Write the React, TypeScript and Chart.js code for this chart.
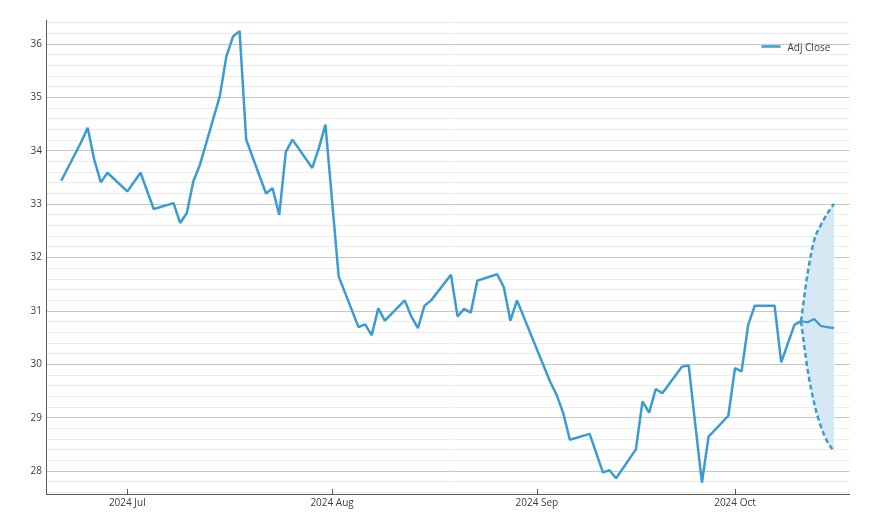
import React, { useEffect, useRef } from "react";
import { Chart, registerables } from "chart.js";

Chart.register(...registerables);

// ---- data ----
const actualDates = [
  "2024-06-21", "2024-06-24", "2024-06-25", "2024-06-26", "2024-06-27", "2024-06-28",
  "2024-07-01", "2024-07-03", "2024-07-05", "2024-07-08", "2024-07-09", "2024-07-10",
  "2024-07-11", "2024-07-12", "2024-07-15", "2024-07-16", "2024-07-17", "2024-07-18",
  "2024-07-19", "2024-07-22", "2024-07-23", "2024-07-24", "2024-07-25", "2024-07-26",
  "2024-07-29", "2024-07-30", "2024-07-31", "2024-08-02", "2024-08-05", "2024-08-06",
  "2024-08-07", "2024-08-08", "2024-08-09", "2024-08-12", "2024-08-13", "2024-08-14",
  "2024-08-15", "2024-08-16", "2024-08-19", "2024-08-20", "2024-08-21", "2024-08-22",
  "2024-08-23", "2024-08-26", "2024-08-27", "2024-08-28", "2024-08-29", "2024-09-03",
  "2024-09-04", "2024-09-05", "2024-09-06", "2024-09-09", "2024-09-11", "2024-09-12",
  "2024-09-13", "2024-09-16", "2024-09-17", "2024-09-18", "2024-09-19", "2024-09-20",
  "2024-09-23", "2024-09-24", "2024-09-25", "2024-09-26", "2024-09-27", "2024-09-30",
  "2024-10-01", "2024-10-02", "2024-10-03", "2024-10-04", "2024-10-07", "2024-10-08",
  "2024-10-10", "2024-10-11",
];
const actualValues = [
  33.44, 34.16, 34.43, 33.83, 33.41, 33.59,
  33.24, 33.59, 32.91, 33.02, 32.65, 32.83,
  33.43, 33.74, 35.02, 35.77, 36.14, 36.24,
  34.21, 33.2, 33.3, 32.8, 33.98, 34.21,
  33.68, 34.05, 34.49, 31.65, 30.7, 30.75,
  30.55, 31.05, 30.82, 31.2, 30.9, 30.68,
  31.1, 31.2, 31.68, 30.9, 31.04, 30.97,
  31.57, 31.69, 31.45, 30.82, 31.2, 29.68,
  29.43, 29.09, 28.59, 28.7, 27.98, 28.02,
  27.87, 28.41, 29.31, 29.1, 29.54, 29.46,
  29.96, 29.98, 28.87, 27.79, 28.65, 29.04,
  29.93, 29.87, 30.74, 31.1, 31.1, 30.04,
  30.74, 30.81,
];

const forecastDates = ["2024-10-11", "2024-10-12", "2024-10-13", "2024-10-14", "2024-10-15", "2024-10-16"];
const forecastMean = [30.81, 30.79, 30.85, 30.72, 30.7, 30.68];
const forecastUpper = [30.81, 31.71, 32.33, 32.61, 32.83, 33.01];
const forecastLower = [30.81, 29.9, 29.27, 28.84, 28.55, 28.37];

const monthTickDates = ["2024-07-01", "2024-08-01", "2024-09-01", "2024-10-01"];
const monthTickLabels = ["2024 Jul", "2024 Aug", "2024 Sep", "2024 Oct"];

const legendLabel = "Adj Close";

// ---- helpers ----
const ORIGIN = Date.UTC(2024, 6, 1);
const toDay = (s: string) => {
  const [y, m, d] = s.split("-").map(Number);
  return (Date.UTC(y, m - 1, d) - ORIGIN) / 86400000;
};
const toPoints = (dates: string[], vals: number[]) => dates.map((d, i) => ({ x: toDay(d), y: vals[i] }));

const LINE = "#3a9cd3";
const BAND = "#d5e8f4";
const TEXT = "#3c3c3c";
const FONT = "'Open Sans', 'Noto Sans', 'DejaVu Sans', sans-serif";

const isInt = (v: number) => Math.abs(v - Math.round(v)) < 1e-6;

const decorPlugin = {
  id: "decor",
  afterDraw(chart: any) {
    const { ctx, chartArea } = chart;
    const xs = chart.scales.x;
    ctx.save();
    // inner tick marks on x axis
    ctx.strokeStyle = "#555";
    ctx.lineWidth = 1;
    xs.ticks.forEach((t: any) => {
      const px = Math.round(xs.getPixelForValue(t.value)) + 0.5;
      ctx.beginPath();
      ctx.moveTo(px, chartArea.bottom);
      ctx.lineTo(px, chartArea.bottom - 5);
      ctx.stroke();
    });
    // legend
    const ly = chartArea.top + 26;
    const lx = chartArea.right - 88;
    ctx.strokeStyle = LINE;
    ctx.lineWidth = 2.5;
    ctx.beginPath();
    ctx.moveTo(lx, ly);
    ctx.lineTo(lx + 19, ly);
    ctx.stroke();
    ctx.fillStyle = TEXT;
    ctx.font = `10px ${FONT}`;
    ctx.textBaseline = "middle";
    ctx.textAlign = "left";
    ctx.fillText(legendLabel, lx + 26, ly + 1.5);
    ctx.restore();
  },
};

export default function App() {
  const ref = useRef<HTMLCanvasElement | null>(null);

  useEffect(() => {
    if (!ref.current) return;
    const chart = new Chart(ref.current, {
      type: "line",
      data: {
        datasets: [
          {
            label: legendLabel,
            data: toPoints(actualDates, actualValues),
            borderColor: LINE,
            borderWidth: 2.5,
            borderJoinStyle: "bevel",
            pointRadius: 0,
            tension: 0,
            fill: false,
          },
          {
            label: "Forecast",
            data: toPoints(forecastDates, forecastMean),
            borderColor: LINE,
            borderWidth: 2.2,
            borderJoinStyle: "bevel",
            pointRadius: 0,
            tension: 0,
            fill: false,
          },
          {
            label: "Lower",
            data: toPoints(forecastDates, forecastLower),
            borderColor: LINE,
            borderWidth: 2.5,
            borderDash: [5, 3],
            pointRadius: 0,
            cubicInterpolationMode: "monotone",
            fill: false,
          },
          {
            label: "Upper",
            data: toPoints(forecastDates, forecastUpper),
            borderColor: LINE,
            borderWidth: 2.5,
            borderDash: [5, 3],
            pointRadius: 0,
            cubicInterpolationMode: "monotone",
            fill: { target: "-1" },
            backgroundColor: BAND,
          },
        ],
      },
      options: {
        animation: false,
        responsive: true,
        maintainAspectRatio: false,
        layout: { padding: { top: 20.5, right: 20.5, left: 0, bottom: 0 } },
        plugins: {
          legend: { display: false },
          tooltip: { enabled: false },
        },
        scales: {
          x: {
            type: "linear",
            min: -12.31,
            max: 109.34,
            grid: { display: false, drawTicks: false },
            border: { display: true, color: "#5a5a5a", width: 1 },
            afterBuildTicks: (scale: any) => {
              scale.ticks = monthTickDates.map((d) => ({ value: toDay(d) }));
            },
            afterFit: (scale: any) => {
              scale.height = 37;
            },
            ticks: {
              autoSkip: false,
              maxRotation: 0,
              padding: 3,
              color: TEXT,
              font: { family: FONT, size: 10 },
              callback: (v: any) => {
                const i = monthTickDates.findIndex((d) => Math.abs(toDay(d) - Number(v)) < 1e-6);
                return i >= 0 ? monthTickLabels[i] : "";
              },
            },
          },
          y: {
            type: "linear",
            min: 27.575,
            max: 36.44,
            grid: {
              drawTicks: false,
              lineWidth: 1,
              color: (c: any) => (isInt(c.tick.value) ? "#c6c6c6" : "#ececec"),
            },
            border: { display: true, color: "#5a5a5a", width: 1 },
            afterBuildTicks: (scale: any) => {
              const t: { value: number }[] = [];
              for (let k = 138; k <= 182; k++) t.push({ value: k / 5 });
              scale.ticks = t;
            },
            afterFit: (scale: any) => {
              scale.width = 46;
            },
            ticks: {
              autoSkip: false,
              padding: 4,
              color: TEXT,
              font: { family: FONT, size: 10 },
              callback: (v: any) => (isInt(Number(v)) ? String(Math.round(Number(v))) : ""),
            },
          },
        },
      },
      plugins: [decorPlugin],
    });
    return () => chart.destroy();
  }, []);

  return (
    <div style={{ position: "fixed", left: 0, top: 0, width: 870, height: 531, background: "#fff" }}>
      <canvas ref={ref} />
    </div>
  );
}
